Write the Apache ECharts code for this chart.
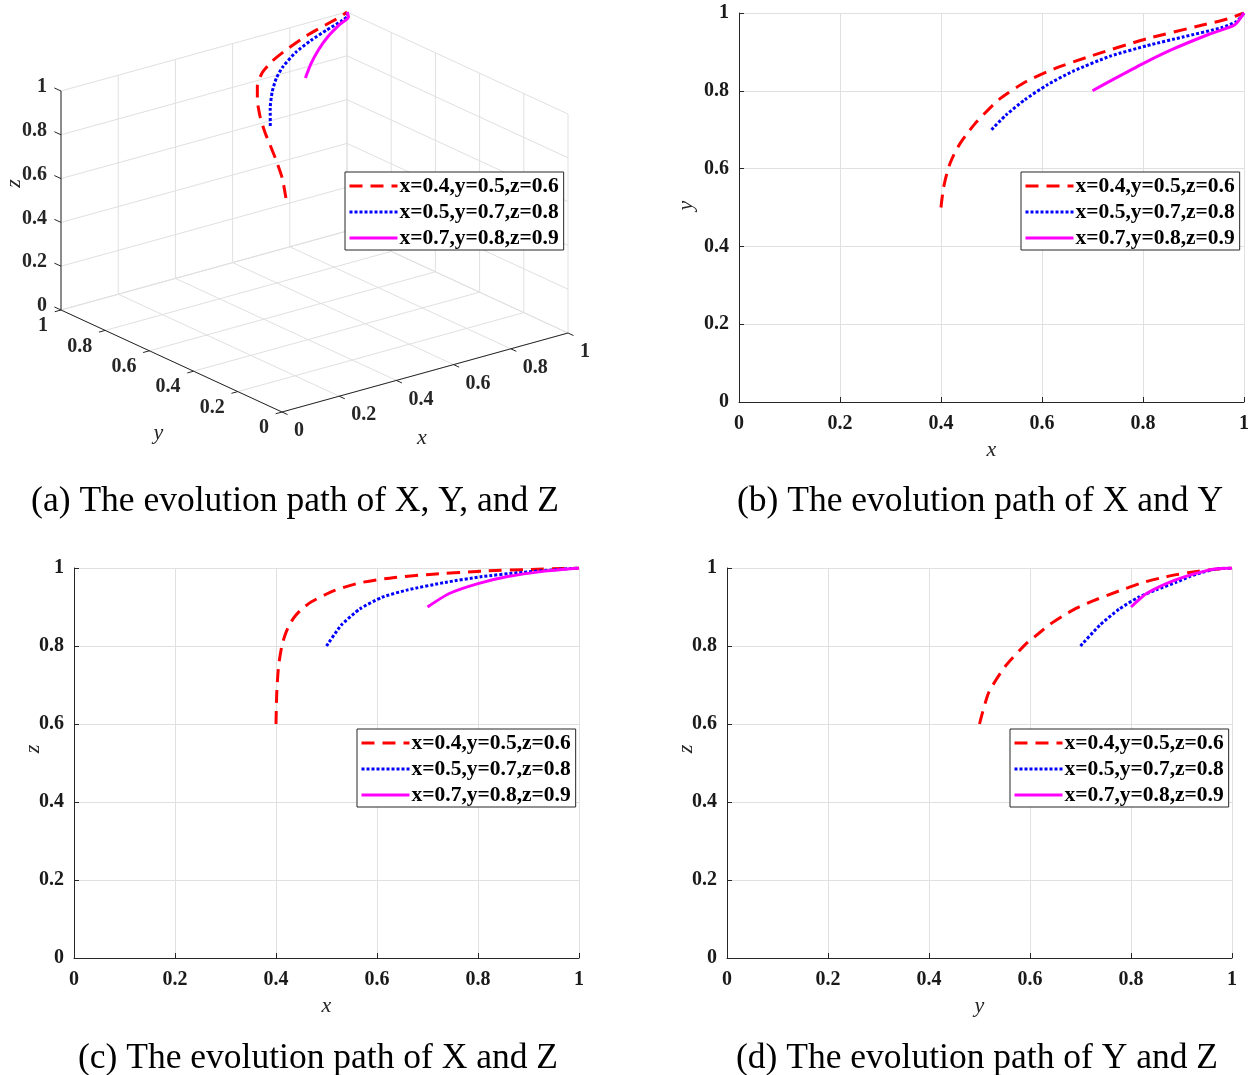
<!DOCTYPE html>
<html>
<head>
<meta charset="utf-8">
<script src="https://cdn.jsdelivr.net/npm/echarts@6/dist/echarts.min.js"></script>
<style>
html, body { margin: 0; padding: 0; background: #fff; }
#chart { width: 1259px; height: 1075px; }
</style>
</head>
<body>
<div id="chart"></div>
<script>
// Evolution paths of the three strategy proportions, sampled along time.
const seriesNames = ['x=0.4,y=0.5,z=0.6', 'x=0.5,y=0.7,z=0.8', 'x=0.7,y=0.8,z=0.9'];

const redX = [0.400, 0.4015, 0.405, 0.412, 0.419, 0.427, 0.438, 0.453, 0.471, 0.515, 0.566, 0.625, 0.698, 0.808, 0.918, 0.968, 1.000];
const redY = [0.500, 0.518, 0.551, 0.590, 0.617, 0.640, 0.665, 0.692, 0.721, 0.778, 0.822, 0.857, 0.890, 0.934, 0.969, 0.985, 1.000];
const redZ = [0.600, 0.680, 0.748, 0.803, 0.832, 0.856, 0.877, 0.897, 0.914, 0.942, 0.962, 0.974, 0.983, 0.992, 0.997, 0.999, 1.000];

const blueX = [0.500, 0.529, 0.566, 0.610, 0.661, 0.735, 0.808, 0.881, 0.955, 0.985, 1.000];
const blueY = [0.700, 0.738, 0.777, 0.815, 0.850, 0.889, 0.916, 0.939, 0.962, 0.978, 1.000];
const blueZ = [0.800, 0.853, 0.895, 0.925, 0.944, 0.963, 0.978, 0.988, 0.996, 0.999, 1.000];

const magX = [0.700, 0.742, 0.800, 0.859, 0.932, 0.982, 1.000];
const magY = [0.800, 0.830, 0.870, 0.907, 0.946, 0.970, 1.000];
const magZ = [0.900, 0.934, 0.960, 0.978, 0.992, 0.998, 1.000];

const axisTicks = [0, 0.2, 0.4, 0.6, 0.8, 1];
const tickLabels = ['0', '0.2', '0.4', '0.6', '0.8', '1'];

const captions = [
  '(a) The evolution path of X, Y, and Z',
  '(b) The evolution path of X and Y',
  '(c) The evolution path of X and Z',
  '(d) The evolution path of Y and Z'
];

// ---------------------------------------------------------------------------
const SERIF = '"Liberation Serif", "Times New Roman", serif';
const AXIS_COLOR = '#262626';
const GRID_COLOR = '#e0e0e0';

const curves = [
  { name: seriesNames[0], X: redX, Y: redY, Z: redZ, style: { color: '#ff0000', width: 3, type: [13, 8] } },
  { name: seriesNames[1], X: blueX, Y: blueY, Z: blueZ, style: { color: '#0000ff', width: 3, type: [3, 2] } },
  { name: seriesNames[2], X: magX, Y: magY, Z: magZ, style: { color: '#ff00ff', width: 3, type: 'solid' } }
];

// Oblique projection of the unit cube for the 3-D view (screen units, y up).
function proj(x, y, z) {
  return [286 * x - 221 * y, 79 * x + 102 * y + 219 * z];
}

// Box frame of the 3-D view: grid planes, axes, ticks and their labels.
const frame = [];
axisTicks.forEach(t => {
  frame.push({ k: 'grid', a: [t, 0, 0], b: [t, 1, 0] });
  frame.push({ k: 'grid', a: [0, t, 0], b: [1, t, 0] });
  frame.push({ k: 'grid', a: [t, 1, 0], b: [t, 1, 1] });
  frame.push({ k: 'grid', a: [0, 1, t], b: [1, 1, t] });
  frame.push({ k: 'grid', a: [1, t, 0], b: [1, t, 1] });
  frame.push({ k: 'grid', a: [1, 0, t], b: [1, 1, t] });
});
frame.push({ k: 'axis', a: [0, 0, 0], b: [1, 0, 0] });
frame.push({ k: 'axis', a: [0, 0, 0], b: [0, 1, 0] });
frame.push({ k: 'axis', a: [0, 1, 0], b: [0, 1, 1] });
axisTicks.forEach((t, i) => {
  frame.push({ k: 'axis', a: [t, 0, 0], b: [t, -0.025, 0] });
  frame.push({ k: 'axis', a: [0, t, 0], b: [-0.022, t, 0] });
  frame.push({ k: 'axis', a: [0, 1, t], b: [0, 1.03, t] });
  frame.push({ k: 'label', p: [t, 0, 0], dx: 12, dy: 19, align: 'left', text: tickLabels[i] });
  frame.push({ k: 'label', p: [0, t, 0], dx: -13, dy: 16, align: 'right', text: tickLabels[i] });
  frame.push({ k: 'label', p: [0, 1, t], dx: -14, dy: -4, align: 'right', text: tickLabels[i] });
});
frame.push({ k: 'name', p: [0.5, 0, 0], dx: -3, dy: 66, text: 'x' });
frame.push({ k: 'name', p: [0, 0.5, 0], dx: -13, dy: 72, text: 'y' });
frame.push({ k: 'name', p: [0, 1, 0.5], dx: -47, dy: -17, text: 'z', rot: true });

function renderFrame(params, api) {
  const it = frame[params.dataIndex];
  if (it.k === 'grid' || it.k === 'axis') {
    const p1 = api.coord(proj(it.a[0], it.a[1], it.a[2]));
    const p2 = api.coord(proj(it.b[0], it.b[1], it.b[2]));
    return {
      type: 'line',
      shape: { x1: p1[0], y1: p1[1], x2: p2[0], y2: p2[1] },
      style: { stroke: it.k === 'grid' ? GRID_COLOR : AXIS_COLOR, lineWidth: 1 },
      z2: it.k === 'grid' ? 0 : 1
    };
  }
  const p = api.coord(proj(it.p[0], it.p[1], it.p[2]));
  const isName = it.k === 'name';
  return {
    type: 'text',
    x: p[0] + it.dx,
    y: p[1] + it.dy,
    rotation: it.rot ? Math.PI / 2 : 0,
    style: {
      text: it.text,
      fill: AXIS_COLOR,
      font: isName ? 'italic 22px ' + SERIF : 'bold 20px ' + SERIF,
      align: isName ? 'center' : it.align,
      verticalAlign: 'middle'
    },
    z2: 2
  };
}

// ---------------------------------------------------------------------------
// 2-D panels: pixel box, axis names and name placement
const panels2d = [
  { box: { left: 739, top: 13, width: 505, height: 389 }, xName: 'x', yName: 'y', xGap: 37, yGap: 42, yPad: [0, 0, 0, 4], yMove: true, dims: ['X', 'Y'] },
  { box: { left: 74, top: 568, width: 505, height: 390 }, xName: 'x', yName: 'z', xGap: 37, yGap: 30, yPad: [0, 0, 0, 28], yMove: false, dims: ['X', 'Z'] },
  { box: { left: 727, top: 568, width: 505, height: 390 }, xName: 'y', yName: 'z', xGap: 37, yGap: 30, yPad: [0, 0, 0, 28], yMove: false, dims: ['Y', 'Z'] }
];

const grids = [{ left: 61, top: 12, width: 507, height: 400 }];
const xAxes = [{ type: 'value', gridIndex: 0, min: -221, max: 286, show: false }];
const yAxes = [{ type: 'value', gridIndex: 0, min: 0, max: 400, show: false }];

const tickLabelStyle = { fontFamily: SERIF, fontWeight: 'bold', fontSize: 20, color: '#1a1a1a' };

function valueAxis(gridIndex, name, gap, isY, pad, move) {
  return {
    type: 'value', gridIndex: gridIndex, min: 0, max: 1, interval: 0.2,
    name: name, nameLocation: 'middle', nameGap: gap,
    nameMoveOverlap: move !== false,
    nameTextStyle: { fontFamily: SERIF, fontStyle: 'italic', fontSize: 22, color: AXIS_COLOR, padding: pad || 0 },
    nameRotate: isY ? 90 : 0,
    axisLine: { show: true, lineStyle: { color: AXIS_COLOR, width: 1 } },
    axisTick: { show: true, inside: true, length: 5, lineStyle: { color: AXIS_COLOR } },
    axisLabel: Object.assign({ margin: isY ? 10 : 12 }, tickLabelStyle),
    splitLine: { show: true, lineStyle: { color: GRID_COLOR, width: 1 } }
  };
}

panels2d.forEach((p, i) => {
  grids.push(p.box);
  xAxes.push(valueAxis(i + 1, p.xName, p.xGap, false));
  yAxes.push(valueAxis(i + 1, p.yName, p.yGap, true, p.yPad, p.yMove));
});

const series = [{
  type: 'custom',
  xAxisIndex: 0, yAxisIndex: 0,
  silent: true, z: 1,
  renderItem: renderFrame,
  data: frame.map(() => [0, 0])
}];

curves.forEach(c => {
  series.push({
    type: 'line', name: c.name, xAxisIndex: 0, yAxisIndex: 0,
    data: c.X.map((x, i) => proj(x, c.Y[i], c.Z[i])),
    showSymbol: false, symbol: 'none', smooth: 0.2, z: 3,
    lineStyle: c.style, itemStyle: { color: c.style.color }
  });
});

panels2d.forEach((p, pi) => {
  curves.forEach(c => {
    const A = c[p.dims[0]], B = c[p.dims[1]];
    series.push({
      type: 'line', name: c.name, xAxisIndex: pi + 1, yAxisIndex: pi + 1,
      data: A.map((a, i) => [a, B[i]]),
      showSymbol: false, symbol: 'none', smooth: 0.2, z: 3,
      lineStyle: c.style, itemStyle: { color: c.style.color }
    });
  });
});

const legendBoxes = [
  { left: 345, top: 172 },
  { left: 1021, top: 172 },
  { left: 357, top: 729 },
  { left: 1010, top: 729 }
];
const legends = legendBoxes.map(b => ({
  left: b.left, top: b.top, orient: 'vertical',
  data: seriesNames, selectedMode: false,
  itemWidth: 48, itemHeight: 14, itemGap: 4,
  padding: [3, 5, 1, 3],
  borderColor: AXIS_COLOR, borderWidth: 1, backgroundColor: '#fff',
  lineStyle: { width: 'inherit' },
  itemStyle: { color: 'rgba(0,0,0,0)', borderWidth: 0 },
  textStyle: { fontFamily: SERIF, fontWeight: 'bold', fontSize: 21.5, color: '#000', padding: [0, 0, 0, -3], lineHeight: 22 },
  z: 10
}));

const captionPos = [[295, 502], [980, 502], [318, 1059], [977, 1059]];
const graphic = captions.map((t, i) => ({
  type: 'text', x: captionPos[i][0], y: captionPos[i][1],
  style: { text: t, font: '35.5px ' + SERIF, fill: '#000', align: 'center', verticalAlign: 'middle' }
}));

const chart = echarts.init(document.getElementById('chart'), null, { renderer: 'canvas' });
chart.setOption({
  backgroundColor: '#fff',
  animation: false,
  grid: grids,
  xAxis: xAxes,
  yAxis: yAxes,
  legend: legends,
  graphic: graphic,
  series: series
});
</script>
</body>
</html>
